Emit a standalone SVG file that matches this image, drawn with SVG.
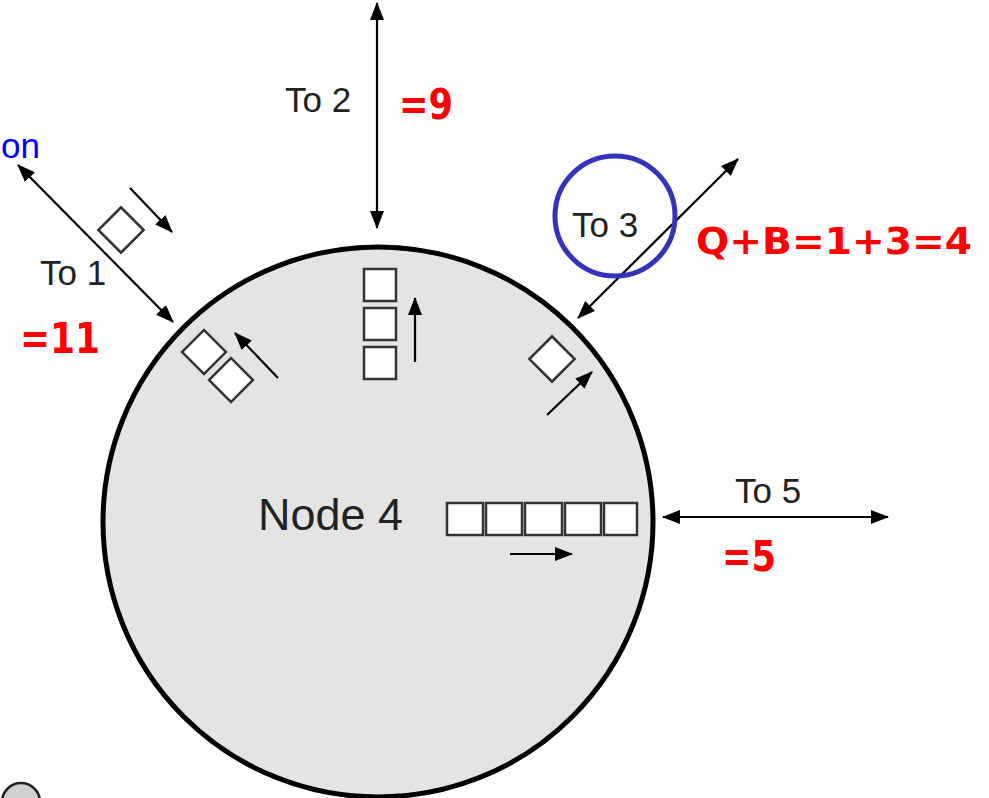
<svg xmlns="http://www.w3.org/2000/svg" width="989" height="798" viewBox="0 0 989 798">
<defs>
<marker id="ah" markerUnits="userSpaceOnUse" markerWidth="18" markerHeight="14" refX="17" refY="7" orient="auto-start-reverse">
<path d="M0,0 L18,7 L0,14 z" fill="#000"/>
</marker>
<style>
.lbl{font-family:"Liberation Sans",Arial,sans-serif;font-size:35px;fill:#222}
.red{font-family:"Comic Sans MS","DejaVu Sans",sans-serif;font-weight:bold;font-size:42px;fill:#ff0000}
.conn{stroke:#000;stroke-width:2.2;fill:none}
.box{fill:#fff;stroke:#333;stroke-width:2.5}
</style>
</defs>
<rect width="989" height="798" fill="#fff"/>
<g id="node4">
<circle cx="378" cy="522" r="275" fill="#e4e4e4" stroke="#000" stroke-width="5"/>
<text x="258" y="530" font-family="Liberation Sans, Arial, sans-serif" font-size="44" fill="#222" textLength="145" lengthAdjust="spacingAndGlyphs">Node 4</text>
</g>
<g id="small-node">
<circle cx="21" cy="802" r="19" fill="#d0d0d0" stroke="#222" stroke-width="2.5"/>
</g>
<g id="queues">
<rect class="box" x="364" y="269" width="32" height="32"/>
<rect class="box" x="364" y="308" width="32" height="32"/>
<rect class="box" x="364" y="347" width="32" height="32"/>
<rect class="box" x="447" y="503" width="36" height="32"/>
<rect class="box" x="486" y="503" width="36" height="32"/>
<rect class="box" x="525" y="503" width="37" height="32"/>
<rect class="box" x="565" y="503" width="36" height="32"/>
<rect class="box" x="604" y="503" width="33" height="32"/>
<rect class="box" x="-16" y="-16" width="32" height="32" transform="translate(121,230) rotate(45)"/>
<rect class="box" x="-15.5" y="-15.5" width="31" height="31" transform="translate(204,352) rotate(45)"/>
<rect class="box" x="-15.5" y="-15.5" width="31" height="31" transform="translate(231,380) rotate(45)"/>
<rect class="box" x="-16" y="-16" width="32" height="32" transform="translate(552,359) rotate(45)"/>
</g>
<g id="connectors">
<line class="conn" x1="377" y1="3" x2="377" y2="228" marker-start="url(#ah)" marker-end="url(#ah)"/>
<line class="conn" x1="18" y1="165" x2="173" y2="322" marker-start="url(#ah)" marker-end="url(#ah)"/>
<line class="conn" x1="738" y1="159" x2="578" y2="318" marker-start="url(#ah)" marker-end="url(#ah)"/>
<line class="conn" x1="663" y1="517" x2="888" y2="517" marker-start="url(#ah)" marker-end="url(#ah)"/>
<line class="conn" x1="130" y1="188" x2="172" y2="232" marker-end="url(#ah)"/>
<line class="conn" x1="278" y1="378" x2="235" y2="333" marker-end="url(#ah)"/>
<line class="conn" x1="415" y1="362" x2="415" y2="298" marker-end="url(#ah)"/>
<line class="conn" x1="547" y1="415" x2="592" y2="372" marker-end="url(#ah)"/>
<line class="conn" x1="510" y1="554" x2="572" y2="554" marker-end="url(#ah)"/>
</g>
<g id="labels">
<text class="lbl" x="285" y="112">To 2</text>
<text class="lbl" x="40" y="285">To 1</text>
<text class="lbl" x="572" y="237">To 3</text>
<text class="lbl" x="735" y="503">To 5</text>
<text x="1" y="158" font-family="Liberation Sans, Arial, sans-serif" font-size="35" fill="#0000ff">on</text>
</g>
<g id="annotations">
<circle cx="615" cy="216" r="60" fill="none" stroke="#3333bb" stroke-width="5"/>
<text class="red" x="399" y="119" textLength="54" lengthAdjust="spacingAndGlyphs">=9</text>
<text class="red" x="20" y="353" textLength="80" lengthAdjust="spacingAndGlyphs">=11</text>
<text class="red" x="722" y="571" textLength="54" lengthAdjust="spacingAndGlyphs">=5</text>
<text class="red" x="696" y="254" textLength="276" lengthAdjust="spacingAndGlyphs" style="font-size:38px">Q+B=1+3=4</text>
</g>
</svg>
